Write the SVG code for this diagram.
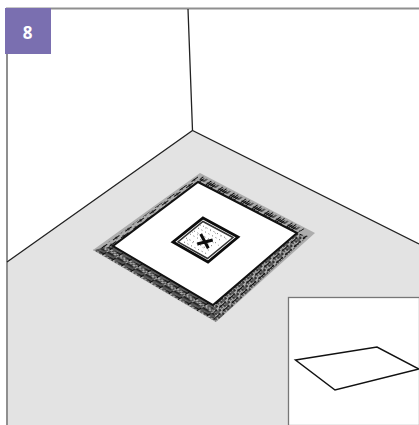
<svg xmlns="http://www.w3.org/2000/svg" width="419" height="425" viewBox="0 0 419 425">
<style>
.frame{fill:none;stroke:#8f8f8f;stroke-width:2}
.edge{fill:none;stroke:#222;stroke-width:1.300}
</style>
<defs>
<pattern id="combA" width="11" height="8" patternUnits="userSpaceOnUse" patternTransform="translate(93 250) rotate(30.300) skewX(-25)">
<path fill="none" stroke="#0c0c0c" stroke-width="1.100" d="M0 2.500H8M4 6H11M1 0V6M3 1V8M5 0V5M7 3V8M9 0V7M10.500 3V8"/>
</pattern>
<pattern id="combB" width="13" height="8" patternUnits="userSpaceOnUse" patternTransform="translate(200 173) rotate(27.500) skewX(-25)">
<path fill="none" stroke="#0c0c0c" stroke-width="1.100" d="M0 5.500H10M1.500 1V8M3.500 3V8M5.500 0V7M7.500 3V8M10 2V6"/>
</pattern>
<pattern id="combC" width="15" height="5" patternUnits="userSpaceOnUse" patternTransform="translate(93 250) rotate(-35.500)">
<path fill="none" stroke="#111" stroke-width="1" d="M0 1.500H9M7 3.500H15M3 0V3M11 2V5"/>
</pattern>
<pattern id="combD" width="12" height="5" patternUnits="userSpaceOnUse" patternTransform="translate(216 322) rotate(-42)">
<path fill="none" stroke="#0c0c0c" stroke-width="1.100" d="M0 1.500H9M5 4H12M2 0V4M5 1V5M8 0V3M11 2V5"/>
</pattern>
</defs>
<rect width="419" height="425" fill="#fff"/>
<polygon points="192.500,130.500 419,244 419,425 7,425 7,262" fill="#e3e3e3"/>
<path class="frame" d="M419 8.500H7V425"/>
<g id="room"><path class="edge" d="M188 9L192.500 130.500M7 262L192.500 130.500L419 244"/></g>
<g id="band">
<polygon points="200,173 315,233 216,322 93,250" fill="#adadad"/>
<polygon points="93,250 216,322 213,305 113,246" fill="url(#combA)"/>
<polygon points="202,176 305,229 297,233 198,182" fill="url(#combB)"/>
<polygon points="198,176 198,182 113,246 99,249" fill="url(#combC)"/>
<polygon points="216,322 308,236 297,233 213,305" fill="url(#combD)"/>
</g>
<g id="mat"><polygon points="198,182 297,233 213,305 113,246" fill="#fff" stroke="#111" stroke-width="2"/></g>
<g id="hatch-box">
<polygon points="203,218 238,237 208,262 173,242" fill="#fff" stroke="#0c0c0c" stroke-width="2.800"/>
<polygon points="203,221.500 233,237.500 207.500,258.500 178,242" fill="#fff" stroke="#333" stroke-width="1.500"/>
<path fill="none" stroke="#444" stroke-width="0.900" stroke-dasharray="0.900 3.100" d="M203 226L226 238M198 228L222 241M194 231L218 244M190 234L214 247M186 238L210 250M184 242L207 254"/>
<path fill="none" stroke="#666" stroke-width="0.800" stroke-dasharray="0.800 5" d="M200 225L228 240M192 232L220 246M187 240L212 252"/>
<path fill="none" stroke="#0c0c0c" stroke-width="3" d="M200.700 234L208.300 248.300M197.300 244L212.700 240"/>
</g>
<g id="inset">
<rect x="288.500" y="297.500" width="131" height="128" fill="#fff" stroke="#777" stroke-width="1.300"/>
<polygon points="295.500,360 377,347 419,369 335,390" fill="#fff" stroke="#111" stroke-width="1.500"/>
</g>
<g id="badge">
<rect x="5" y="8" width="46" height="46" fill="#7a6fb0"/>
<text x="27.500" y="39" font-family="Open Sans, Liberation Sans, sans-serif" font-weight="700" font-size="17" text-anchor="middle" fill="#fff">8</text>
</g>
</svg>
